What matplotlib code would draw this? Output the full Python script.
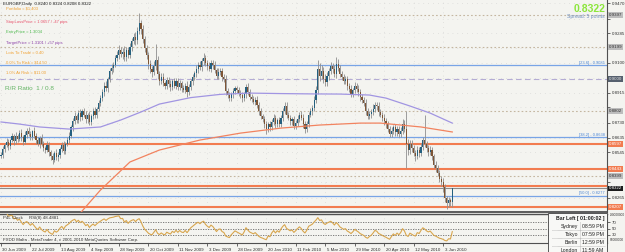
import numpy as np
import pandas as pd
import matplotlib
matplotlib.use('Agg')
import matplotlib.pyplot as plt
from matplotlib.patches import Rectangle
import matplotlib.transforms as mtransforms

plt.rcParams['font.family'] = ['Liberation Sans', 'DejaVu Sans']

# ---------------- data ----------------
date_labels = ['30 Jun 2009', '22 Jul 2009', '13 Aug 2009', '4 Sep 2009', '28 Sep 2009',
               '20 Oct 2009', '11 Nov 2009', '3 Dec 2009', '28 Dec 2009', '20 Jan 2010',
               '11 Feb 2010', '5 Mar 2010', '29 Mar 2010', '20 Apr 2010', '12 May 2010',
               '3 Jun 2010']

first_open = 0.8520
closes = [
    0.8530, 0.8565, 0.8590, 0.8610, 0.8585, 0.8620, 0.8645, 0.8615, 0.8650, 0.8630, 0.8665, 0.8640, 0.8610, 0.8655, 0.8680, 0.8660,
    0.8640, 0.8675, 0.8650, 0.8620, 0.8600, 0.8635, 0.8600, 0.8575, 0.8560, 0.8590, 0.8545, 0.8520, 0.8500, 0.8540, 0.8515, 0.8530,
    0.8565, 0.8590, 0.8555, 0.8600, 0.8625, 0.8650, 0.8700, 0.8740, 0.8770, 0.8745, 0.8790, 0.8765, 0.8800, 0.8780, 0.8750, 0.8775,
    0.8735, 0.8770, 0.8800, 0.8780, 0.8815, 0.8850, 0.8880, 0.8920, 0.8960, 0.8945, 0.9000, 0.9050, 0.9070, 0.9090, 0.9130, 0.9150,
    0.9180, 0.9155, 0.9170, 0.9135, 0.9180, 0.9150, 0.9200, 0.9235, 0.9260, 0.9240, 0.9300, 0.9345, 0.9310, 0.9250, 0.9190, 0.9150,
    0.9095, 0.9060, 0.9045, 0.9080, 0.9120, 0.9030, 0.8990, 0.9015, 0.8975, 0.8960, 0.8995, 0.8970, 0.8950, 0.8985, 0.8960, 0.8990,
    0.8950, 0.8975, 0.8945, 0.8935, 0.8960, 0.8920, 0.8950, 0.8985, 0.9010, 0.9035, 0.9065, 0.9090, 0.9075, 0.9110, 0.9130, 0.9100,
    0.9080, 0.9065, 0.9100, 0.9085, 0.9055, 0.9020, 0.9045, 0.9050, 0.9015, 0.9000, 0.8925, 0.8900, 0.8880, 0.8905, 0.8925, 0.8945,
    0.8930, 0.8915, 0.8900, 0.8880, 0.8905, 0.8950, 0.8920, 0.8890, 0.8875, 0.8860, 0.8870, 0.8840, 0.8800, 0.8770, 0.8750, 0.8720,
    0.8690, 0.8720, 0.8700, 0.8735, 0.8760, 0.8720, 0.8745, 0.8720, 0.8760, 0.8800, 0.8830, 0.8780, 0.8760, 0.8740, 0.8750, 0.8710,
    0.8730, 0.8755, 0.8780, 0.8760, 0.8720, 0.8690, 0.8720, 0.8780, 0.8800, 0.8820, 0.8870, 0.8930, 0.9060, 0.9020, 0.9050, 0.9000,
    0.8980, 0.9020, 0.9050, 0.9080, 0.9060, 0.9030, 0.9095, 0.9070, 0.9030, 0.9010, 0.8990, 0.9000, 0.8960, 0.8940, 0.8910, 0.8930,
    0.8960, 0.8940, 0.8920, 0.8890, 0.8870, 0.8850, 0.8800, 0.8770, 0.8785, 0.8795, 0.8815, 0.8840, 0.8830, 0.8795, 0.8780, 0.8760,
    0.8740, 0.8720, 0.8690, 0.8660, 0.8680, 0.8700, 0.8670, 0.8690, 0.8660, 0.8680, 0.8720, 0.8690, 0.8600, 0.8560, 0.8600, 0.8570,
    0.8540, 0.8520, 0.8560, 0.8540, 0.8580, 0.8620, 0.8600, 0.8570, 0.8550, 0.8560, 0.8520, 0.8470, 0.8450, 0.8420, 0.8380, 0.8360,
    0.8330, 0.8260, 0.8230, 0.8250, 0.8240, 0.8322,
]
upper_wick_pips = [
    15, 20, 12, 25, 18, 10, 22, 15, 20, 12, 18, 25, 14, 20, 16, 22,
    18, 12, 25, 15, 20, 14, 22, 16, 12, 25, 18, 15, 20, 12, 24, 16,
    14, 20, 25, 12, 18, 22, 15, 20, 28, 16, 18, 24, 14, 20, 25, 12,
    30, 16, 20, 24, 14, 18, 22, 16, 20, 28, 15, 18, 22, 14, 20, 25,
    30, 18, 24, 35, 20, 16, 22, 18, 25, 30, 20, 64, 20, 25, 18, 22,
    20, 25, 18, 30, 100, 22, 18, 20, 25, 16, 20, 15, 22, 18, 20, 16,
    18, 22, 15, 20, 16, 25, 18, 14, 20, 16, 22, 18, 25, 20, 30, 22,
    18, 25, 16, 20, 28, 15, 22, 18, 20, 16, 24, 18, 20, 15, 18, 14,
    12, 18, 15, 20, 16, 22, 25, 18, 15, 20, 16, 22, 18, 20, 15, 18,
    20, 16, 22, 18, 25, 20, 16, 22, 18, 20, 25, 30, 18, 20, 16, 22,
    18, 20, 16, 22, 25, 18, 20, 16, 22, 18, 25, 30, 60, 40, 35, 25,
    30, 25, 20, 28, 22, 25, 40, 30, 20, 18, 22, 16, 20, 18, 22, 16,
    20, 18, 22, 16, 20, 18, 25, 20, 16, 22, 30, 20, 18, 25, 20, 16,
    22, 18, 20, 16, 25, 18, 20, 22, 18, 25, 30, 25, 110, 30, 25, 22,
    20, 18, 22, 16, 25, 20, 157, 18, 20, 22, 16, 18, 20, 15, 18, 20,
    25, 20, 18, 22, 15, 2,
]
lower_wick_pips = [
    12, 18, 20, 14, 22, 16, 12, 25, 18, 20, 15, 22, 18, 14, 20, 16,
    20, 15, 18, 22, 16, 25, 14, 20, 18, 15, 22, 20, 25, 16, 18, 20,
    22, 16, 20, 18, 14, 20, 16, 22, 18, 20, 15, 24, 18, 16, 20, 25,
    18, 22, 16, 20, 24, 15, 20, 18, 22, 16, 25, 20, 18, 24, 16, 20,
    25, 20, 30, 22, 26, 20, 18, 25, 20, 30, 22, 20, 30, 25, 22, 28,
    30, 25, 35, 20, 22, 30, 25, 20, 18, 22, 20, 18, 25, 20, 16, 22,
    20, 18, 24, 16, 22, 30, 20, 18, 22, 16, 20, 25, 18, 22, 20, 16,
    22, 18, 20, 25, 16, 22, 18, 20, 25, 18, 22, 20, 16, 18, 20, 15,
    16, 20, 18, 22, 15, 20, 18, 22, 20, 16, 18, 22, 25, 20, 18, 22,
    30, 18, 22, 16, 20, 25, 18, 20, 16, 22, 18, 20, 16, 22, 25, 20,
    22, 18, 20, 16, 22, 25, 18, 20, 16, 22, 18, 20, 25, 30, 22, 25,
    22, 20, 25, 18, 22, 20, 25, 22, 20, 18, 22, 20, 25, 18, 22, 20,
    18, 20, 22, 25, 18, 20, 22, 18, 20, 25, 18, 20, 22, 25, 18, 20,
    22, 25, 20, 18, 22, 20, 25, 22, 18, 20, 22, 18, 150, 30, 25, 22,
    20, 25, 18, 22, 20, 18, 22, 20, 25, 18, 22, 20, 25, 22, 20, 25,
    30, 22, 35, 20, 25, 32,
]

# moving averages (sampled at bar numbers)
ma_purple_bars = [0, 10, 21, 37, 54, 65, 76, 86, 103, 119, 135, 152, 168, 184, 200, 209, 222, 233, 245]
ma_purple_vals = [0.8734, 0.8721, 0.8703, 0.8690, 0.8703, 0.8746, 0.8796, 0.8845, 0.8885, 0.8905,
                  0.8913, 0.8910, 0.8908, 0.8907, 0.8901, 0.8882, 0.8833, 0.8789, 0.8727]
ma_orange_bars = [43, 54, 70, 86, 108, 130, 152, 173, 195, 206, 228, 245]
ma_orange_vals = [0.8169, 0.8312, 0.8486, 0.8560, 0.8622, 0.8665, 0.8696, 0.8715, 0.8727, 0.8727,
                  0.8703, 0.8672]

price_ticks = [0.9470, 0.9375, 0.9285, 0.9190, 0.9100, 0.9005, 0.8915, 0.8825, 0.8730,
               0.8635, 0.8545, 0.8450, 0.8360, 0.8265]
fib_levels = [0.9085, 0.8638, 0.8277]
fib_labels = ['[23.6] - 0.9085', '[38.2] - 0.8638', '[50.0] - 0.8277']
orange_levels = [0.8597, 0.8443, 0.8337, 0.8207]
dotted_levels = [0.9397, 0.9199, 0.8802, 0.8399]
dashed_level = 0.9000
bid_price = 0.8322
rsi_levels = [70, 50, 30]

# ---------------- derived ----------------
closes = np.array(closes)
opens = np.r_[first_open, closes[:-1]]
highs = np.maximum(opens, closes) + np.array(upper_wick_pips) * 0.0001
lows = np.minimum(opens, closes) - np.array(lower_wick_pips) * 0.0001
idx = np.arange(len(closes))

s = pd.Series(closes)
d = s.diff()
gain = d.clip(lower=0).ewm(alpha=1 / 8, adjust=False).mean()
loss = (-d.clip(upper=0)).ewm(alpha=1 / 8, adjust=False).mean()
rsi = (100 - 100 / (1 + gain / loss)).values

# ---------------- figure ----------------
W, H = 625, 252
bg = '#F4F4F0'
fig = plt.figure(figsize=(W / 100, H / 100), dpi=100)
fig.patch.set_facecolor(bg)

ax = fig.add_axes([0, (H - 212) / H, 607 / W, 212 / H])
axr = fig.add_axes([0, (H - 243) / H, 607 / W, 29 / H], sharex=ax)
for a in (ax, axr):
    a.set_facecolor(bg)
    a.spines['left'].set_visible(False)
    a.spines['top'].set_visible(False)
    a.spines['right'].set_color('#505050')
    a.spines['right'].set_linewidth(0.8)
ax.spines['bottom'].set_color('#505050')
ax.spines['bottom'].set_linewidth(1.3)
axr.spines['top'].set_visible(True)
axr.spines['top'].set_color('#505050')
axr.spines['top'].set_linewidth(1.0)
axr.spines['bottom'].set_color('#505050')
axr.spines['bottom'].set_linewidth(0.8)

px_per_bar = 1.842
ax.set_xlim(-1 / px_per_bar, (607 - 1) / px_per_bar)
ax.set_ylim(0.8176, 0.9490)
px_price = (0.9490 - 0.8176) / 212

small = 3.2
gridc = '#CFCFCF'
tick_bars = [16 * k for k in range(len(date_labels))]
for tb in tick_bars:
    ax.axvline(tb, color=gridc, lw=0.5, ls=(0, (1, 6)), zorder=0)
for p in price_ticks:
    ax.axhline(p, color=gridc, lw=0.5, ls=(0, (1, 6)), zorder=0)

# horizontal objects
for p in dotted_levels:
    ax.axhline(p, color='#C4B6A0', lw=0.8, ls=(0, (1.5, 2)), zorder=1)
ax.axhline(dashed_level, color='#B4ACD4', lw=0.8, ls=(0, (5, 3)), zorder=1)
for p in fib_levels:
    ax.axhline(p, color='#78A4E6', lw=0.9, zorder=1)
for p in orange_levels:
    ax.axhline(p, color='#F27C50', lw=1.5, zorder=1)
ax.axhline(bid_price, color='#8A8A8A', lw=0.8, zorder=1)

# candles
bull, bear = '#24607F', '#7E5535'
ax.vlines(idx, lows, highs, color='#8E8E8E', lw=0.6, zorder=2)
body_bottom = np.minimum(opens, closes)
body_h = np.maximum(np.abs(closes - opens), 0.00012)
ax.bar(idx, body_h, bottom=body_bottom, width=0.62,
       color=np.where(closes >= opens, bull, bear), edgecolor='none', zorder=3)

# moving averages
ax.plot(ma_purple_bars, ma_purple_vals, color='#A195E2', lw=0.9, zorder=4)
ax.plot(ma_orange_bars, ma_orange_vals, color='#F2835F', lw=0.9, zorder=4)

# fib labels
trans_r = mtransforms.blended_transform_factory(ax.transAxes, ax.transData)
for p, lab in zip(fib_levels, fib_labels):
    ax.text(0.996, p + 0.0004, lab, transform=trans_r, ha='right', va='bottom',
            fontsize=2.9, color='#4A86D6', zorder=5)

# price axis: labels hidden where a level box covers them
box_levels = dotted_levels + [dashed_level] + orange_levels + [bid_price]
ax.yaxis.tick_right()
ax.set_yticks(price_ticks)
tick_texts = []
for p in price_ticks:
    covered = min(abs(p - b) for b in box_levels) < 5 * px_price
    tick_texts.append('' if covered else f'{p:.4f}')
ax.set_yticklabels(tick_texts)
ax.tick_params(axis='y', labelsize=small, length=2, width=0.5, pad=1.2,
               colors='#303030')
ax.tick_params(axis='x', bottom=False, labelbottom=False)

def axis_box(p, text, fc, tc):
    ax.text(1.003, p, text, transform=trans_r, ha='left', va='center',
            fontsize=small, color=tc, clip_on=False, zorder=10,
            bbox=dict(boxstyle='square,pad=0.15', fc=fc, ec='none'))

for p in dotted_levels:
    axis_box(p, f'{p:.4f}', '#BDBDBD', '#303030')
axis_box(dashed_level, f'{dashed_level:.4f}', '#56606E', '#E8E8E8')
for p in orange_levels:
    if abs(p - bid_price) > 5 * px_price:   # the bid box sits on top of a near level
        axis_box(p, f'{p:.4f}', '#F27C50', 'white')
axis_box(bid_price, f'{bid_price:.4f}', '#1C1C1C', 'white')

# RSI panel
axr.set_ylim(3.3, 96.7)
for lv in rsi_levels:
    axr.axhline(lv, color='#6A6A6A', lw=0.6, ls=(0, (1.5, 1.5)), zorder=1)
for tb in tick_bars:
    axr.axvline(tb, color=gridc, lw=0.5, ls=(0, (1, 6)), zorder=0)
axr.plot(idx, rsi, color='#D8A64E', lw=0.8, zorder=3)
axr.yaxis.tick_right()
axr.set_yticks(rsi_levels)
axr.set_yticklabels([str(v) for v in rsi_levels])
axr.tick_params(axis='y', labelsize=small, length=2, width=0.5, pad=1.2, colors='#303030')
axr.set_xticks(tick_bars)
axr.set_xticklabels(date_labels, ha='left')
axr.tick_params(axis='x', labelsize=small, length=2.5, width=0.5, pad=1, colors='#303030')
offset = mtransforms.ScaledTranslation(1.5 / 100, 0, fig.dpi_scale_trans)
for lbl in axr.get_xticklabels():
    lbl.set_transform(lbl.get_transform() + offset)
axr.text(1.004, 0.97, '-90000000', transform=axr.transAxes, ha='left', va='center',
         fontsize=2.3, color='#303030', clip_on=False)
axr.text(1.004, 0.10, '90000000', transform=axr.transAxes, ha='left', va='center',
         fontsize=2.3, color='#303030', clip_on=False)

# ---------------- overlay texts (pixel layout) ----------------
ov = fig.add_axes([0, 0, 1, 1], zorder=20)
ov.set_xlim(0, W)
ov.set_ylim(H, 0)
ov.axis('off')
ov.patch.set_alpha(0)

ov.text(3, 3.5, 'EURGBP,Daily  0.8240 0.8324 0.8208 0.8322', fontsize=small,
        color='#1A1A1A', va='center', ha='left')
left_lines = [
    (9, 'Portfolio = $1,403', '#F0A030'),
    (21.5, 'StopLossPrice = 1.0657 / -47 pips', '#E8506A'),
    (32, 'EntryPrice = 1.3004', '#4CB84C'),
    (43, 'TargetPrice = 1.3101 / +57 pips', '#8A3FA8'),
    (53, 'Lots To Trade = 0.40', '#F0A030'),
    (63, '0.0% To Risk = $14.50', '#F0A030'),
    (72, '1.0% At Risk = $11.00', '#F0A030'),
]
for y, t, c in left_lines:
    ov.text(6, y, t, fontsize=3.0, color=c, va='center', ha='left')
ov.text(5, 89, 'R/R Ratio  1 / 0.8', fontsize=4.6, color='#64B464', va='center', ha='left')

ov.text(605, 9, '0.8322', fontsize=7.5, fontweight='bold', color='#8CE63C',
        va='center', ha='right')
ov.text(605, 16.5, 'Spread: 5 points', fontsize=3.7, color='#7090C0',
        va='center', ha='right')

ov.text(3, 218, 'P4L Clock', fontsize=small, color='#303030', va='center', ha='left')
ov.text(29, 218, 'RSI(8) 48.4881', fontsize=small, color='#303030', va='center', ha='left')
ov.text(3, 240, 'FXDD Malta - MetaTrader 4, c 2001-2010 MetaQuotes Software Corp.',
        fontsize=small, color='#303030', va='center', ha='left')

# clock box
ov.add_patch(Rectangle((548, 213), 59, 40, fc='#F8F8F6', ec='#404040', lw=0.6, zorder=1))
ov.text(605, 218.5, 'Bar Left [ 01:00:02 ]', fontsize=3.7, fontweight='bold',
        color='#202020', va='center', ha='right', zorder=2)
clock_rows = [('Sydney', '08:59 PM'), ('Tokyo', '07:59 PM'), ('Berlin', '12:59 PM'),
              ('London', '11:59 AM')]
for k, (city, tm) in enumerate(clock_rows):
    y = 226.5 + 8 * k
    ov.text(578, y, city, fontsize=3.7, color='#202020', va='center', ha='right', zorder=2)
    ov.text(582, y, tm, fontsize=3.7, color='#202020', va='center', ha='left', zorder=2)
    ov.plot([552, 605], [y + 3.6, y + 3.6], color='#909090', lw=0.4, ls=(0, (1, 1)), zorder=2)
ov.plot([580, 580], [222, 252], color='#909090', lw=0.4, ls=(0, (1, 1)), zorder=2)

fig.savefig('out.png', dpi=100, facecolor=bg)
